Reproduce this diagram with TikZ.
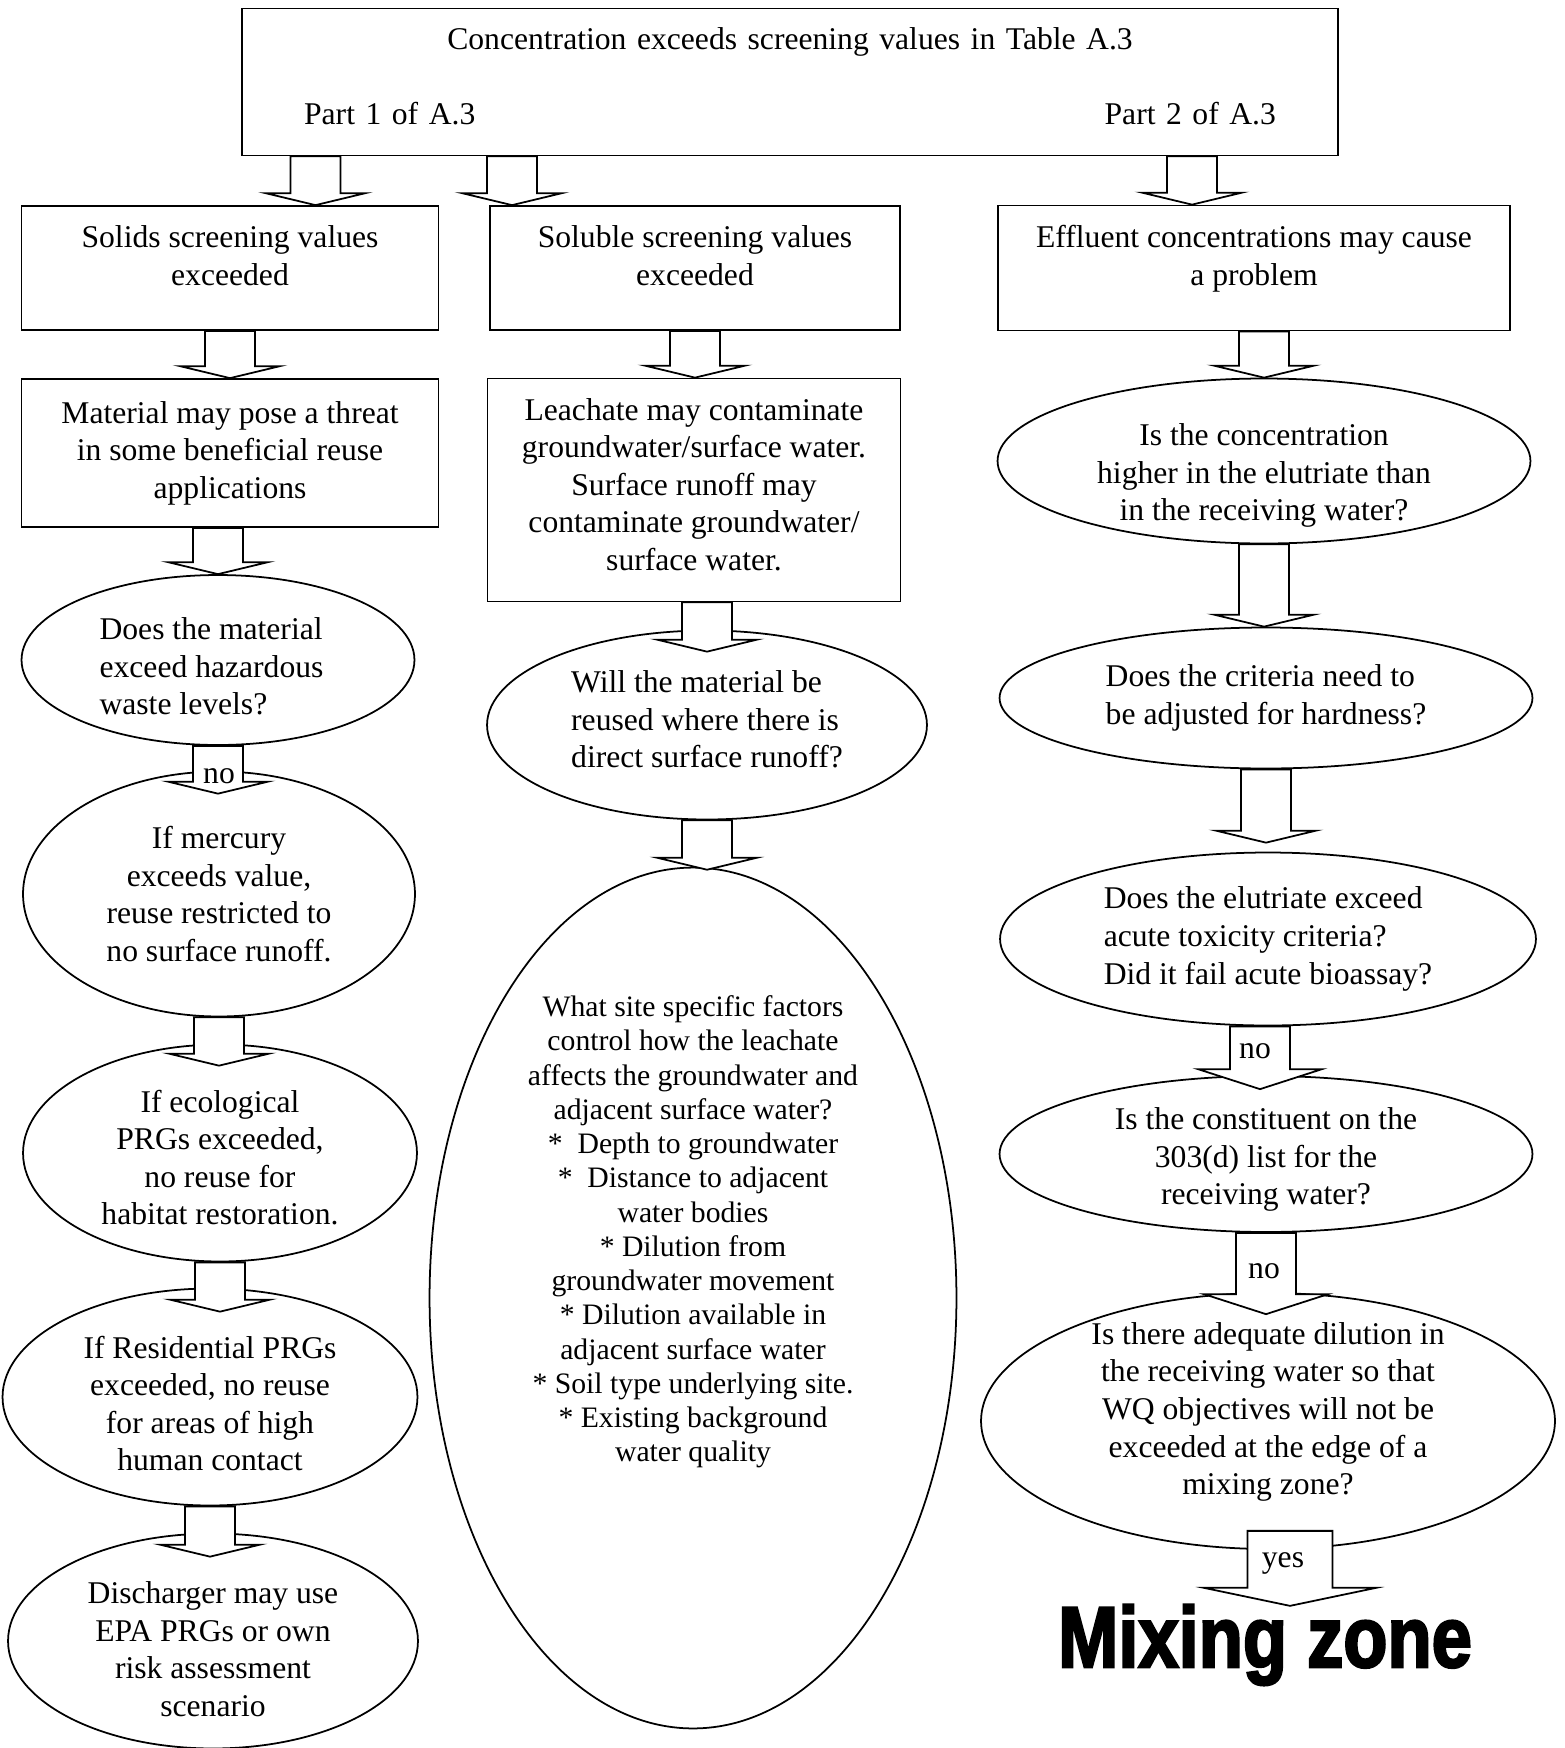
\documentclass[tikz,border=0pt]{standalone}
\usepackage{fontspec}
\setmainfont{Liberation Serif}
\newfontfamily\mixfont{Liberation Sans}[BoldFeatures={FakeBold=3}]
\usepackage{graphicx}
\usepackage{tikz}
\usetikzlibrary{ shapes.geometric, % For the ellipses
                 calc,            % For let and midpoints
                 positioning,     % For easy node-relative placements
               }
\tikzset{shaft half/.initial=0.5cm, head half/.initial=1cm, head len/.initial=0.24cm}
\tikzstyle{every node} = [font=\fontsize{18}{21.4}\selectfont]
\tikzstyle{box} = [rectangle, draw=black, line width=1pt, align=center, inner sep=2pt]
\tikzstyle{ask} = [ellipse, draw=black, line width=1pt, align=center, inner sep=0pt]
\tikzstyle{words} = [align=center, inner sep=0pt]
\tikzstyle{fat} = [draw=black, fill=white, line width=1pt, line join=miter,
  to path={let \p1=(\tikztostart), \p2=(\tikztotarget) in
    (\x1-\pgfkeysvalueof{/tikz/shaft half},\y1)
    -- (\x1-\pgfkeysvalueof{/tikz/shaft half},\y2+\pgfkeysvalueof{/tikz/head len})
    -- (\x1-\pgfkeysvalueof{/tikz/head half},\y2+\pgfkeysvalueof{/tikz/head len})
    -- (\x1,\y2)
    -- (\x1+\pgfkeysvalueof{/tikz/head half},\y2+\pgfkeysvalueof{/tikz/head len})
    -- (\x1+\pgfkeysvalueof{/tikz/shaft half},\y2+\pgfkeysvalueof{/tikz/head len})
    -- (\x1+\pgfkeysvalueof{/tikz/shaft half},\y1) -- cycle}]
\tikzstyle{wide} = [fat, shaft half=0.6cm, head half=1.24cm, head len=0.4cm]
\tikzstyle{bigfat} = [fat, shaft half=0.85cm, head half=1.72cm, head len=0.36cm]
\tikzstyle{tag} = [inner sep=1pt]

\begin{document}
\begin{tikzpicture}[x=0.02cm, y=-0.02cm]
  \useasboundingbox (0,0) rectangle (1565,1748);

  % top of the chart
  \node (top) [box, minimum width=21.92cm, minimum height=2.94cm,
    label={[words, text width=19.44cm, yshift=0.11cm]center:{Concentration exceeds screening values in Table A.3\\[0.74cm]Part 1 of A.3\hfill Part 2 of A.3}}] at (790,82) {};
  \node (solid) [box, minimum width=8.34cm, minimum height=2.48cm,
    label={[words, yshift=0.25cm]center:{Solids screening values\\exceeded}}] at (230,268) {};
  \node (solub) [box, minimum width=8.2cm, minimum height=2.48cm,
    label={[words, yshift=0.25cm]center:{Soluble screening values\\exceeded}}] at (695,268) {};
  \node (efflu) [box, minimum width=10.24cm, minimum height=2.5cm,
    label={[words, yshift=0.18cm]center:{Effluent concentrations may cause\\a problem}}] at (1254,268) {};

  % left column
  \node (mat) [box, minimum width=8.34cm, minimum height=2.96cm] at (230,453) {Material may pose a threat\\in some beneficial reuse\\applications};
  \node (haz) [ask, minimum width=7.86cm, minimum height=3.4cm,
    label={[words, align=left, xshift=-0.13cm, yshift=-0.13cm]center:{Does the material\\exceed hazardous\\waste levels?}}] at (218,660) {};
  \node (merc) [ask, minimum width=7.84cm, minimum height=4.9cm] at (219,894) {If mercury\\exceeds value,\\reuse restricted to\\no surface runoff.};
  \node (eco) [ask, minimum width=7.88cm, minimum height=4.34cm,
    label={[words, yshift=-0.09cm]center:{If ecological\\PRGs exceeded,\\no reuse for\\habitat restoration.}}] at (220,1153) {};
  \node (resid) [ask, minimum width=8.3cm, minimum height=4.34cm,
    label={[words, yshift=-0.13cm]center:{If Residential PRGs\\exceeded, no reuse\\for areas of high\\human contact}}] at (210,1397) {};
  \node (disch) [ask, minimum width=8.2cm, minimum height=4.3cm,
    label={[words, yshift=-0.16cm]center:{Discharger may use\\EPA PRGs or own\\risk assessment\\scenario}}] at (213,1641) {};

  % middle column
  \node (leach) [box, minimum width=8.26cm, minimum height=4.46cm,
    label={[words, yshift=0.11cm]center:{Leachate may contaminate\\groundwater/surface water.\\Surface runoff may\\contaminate groundwater/\\surface water.}}] at (694,490) {};
  \node (runoff) [ask, minimum width=8.8cm, minimum height=3.78cm,
    label={[words, align=left, yshift=0.11cm]center:{Will the material be\\reused where there is\\direct surface runoff?}}] at (707,725) {};
  \node (site) [ask, minimum width=10.54cm, minimum height=17.22cm,
    label={[words, yshift=1.32cm, font=\fontsize{16.9}{19.5}\selectfont]center:{What site specific factors\\control how the leachate\\affects the groundwater and\\adjacent surface water?\\*\enspace Depth to groundwater\\*\enspace Distance to adjacent\\water bodies\\* Dilution from\\groundwater movement\\* Dilution available in\\adjacent surface water\\* Soil type underlying site.\\* Existing background\\water quality}}] at (693,1298) {};

  % right column
  \node (conc) [ask, minimum width=10.66cm, minimum height=3.3cm,
    label={[words, yshift=-0.29cm]center:{Is the concentration\\higher in the elutriate than\\in the receiving water?}}] at (1264,461) {};
  \node (hard) [ask, align=left, minimum width=10.66cm, minimum height=2.82cm] at (1266,698) {Does the criteria need to\\be adjusted for hardness?};
  \node (acute) [ask, align=left, minimum width=10.72cm, minimum height=3.46cm] at (1268,939) {Does the elutriate exceed\\acute toxicity criteria?\\Did it fail acute bioassay?};
  \node (list) [ask, minimum width=10.66cm, minimum height=3.12cm,
    label={[words, yshift=-0.11cm]center:{Is the constituent on the\\303(d) list for the\\receiving water?}}] at (1266,1154) {};
  \node (dil) [ask, minimum width=11.48cm, minimum height=5.12cm,
    label={[words, yshift=0.18cm]center:{Is there adequate dilution in\\the receiving water so that\\WQ objectives will not be\\exceeded at the edge of a\\mixing zone?}}] at (1268,1421) {};
  \node (mix) [anchor=base, inner sep=0pt, font=\mixfont\bfseries\fontsize{49}{50}\selectfont] at (1265,1667) {\scalebox{0.84}[1]{Mixing zone}};

  % block arrows
  \draw [fat] ([xshift=1.71cm]solid.north |- top.south) to (solid.north);
  \draw [fat] ([xshift=-3.66cm]solub.north |- top.south) to (solub.north);
  \draw [fat] ([xshift=-1.24cm]efflu.north |- top.south) to (efflu.north);
  \draw [fat] (solid.south) to (mat.north);
  \draw [fat] (solub.south) to (leach.north);
  \draw [fat] (efflu.south -| conc.north) to (conc.north);
  \draw [fat] (mat.south -| haz.north) to (haz.north);
  \draw [fat] (haz.south) to ([yshift=-0.46cm]merc.north);
  \draw [fat] (merc.south) to ([yshift=-0.44cm]eco.north);
  \draw [fat] (eco.south) to ([yshift=-0.48cm]resid.north);
  \draw [fat] (resid.south) to ([yshift=-0.48cm]disch.north);
  \draw [fat] (leach.south -| runoff.north) to ([yshift=-0.44cm]runoff.north);
  \draw [fat] (runoff.south) to ([yshift=-0.06cm]site.north);
  \draw [fat] (conc.south) to (hard.north);
  \draw [fat] (hard.south) to ([yshift=0.18cm]acute.north);
  \draw [wide] ([xshift=-0.16cm]acute.south) to ([yshift=-0.28cm]list.north);
  \draw [wide] (list.south) to ([yshift=-0.44cm]dil.north);
  \draw [bigfat] ([xshift=0.44cm, yshift=0.38cm]dil.south) to ([yshift=-1.12cm]dil.south);

  % answers on the arrows
  \node (no1) [tag] at ([yshift=-0.12cm]merc.north) {no};
  \node (no2) [tag] at ($(acute.south)!0.5!(list.north)+(-12,0)$) {no};
  \node (no3) [tag] at ($(list.south)!0.5!(dil.north)+(-3,9)$) {no};
  \node (yes) [tag] at ([xshift=0.3cm, yshift=-0.28cm]dil.south) {yes};
\end{tikzpicture}
\end{document}
